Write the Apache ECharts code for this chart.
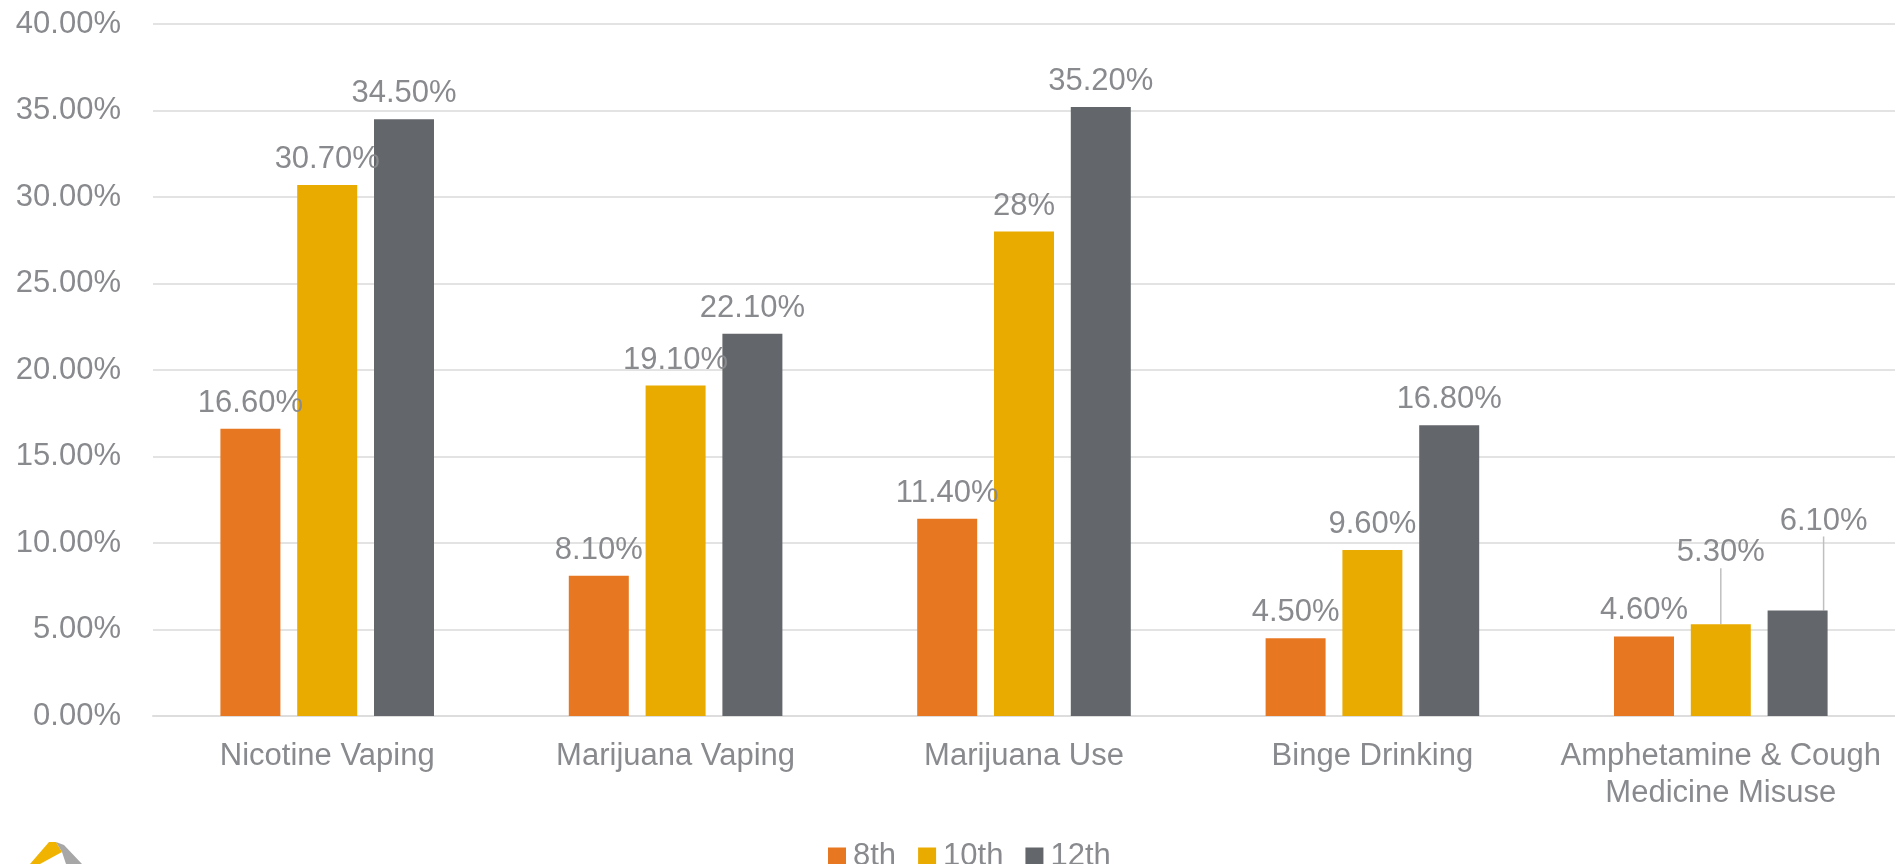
<!DOCTYPE html>
<html>
<head>
<meta charset="utf-8">
<script src="https://cdn.jsdelivr.net/npm/echarts@6/dist/echarts.min.js"></script>
<style>
html,body{margin:0;padding:0;background:#fff;}
#chart{width:1895px;height:864px;}
</style>
</head>
<body>
<div id="chart"></div>
<script>
const categories = ['Nicotine Vaping', 'Marijuana Vaping', 'Marijuana Use', 'Binge Drinking', 'Amphetamine & Cough\nMedicine Misuse'];
const seriesNames = ['8th', '10th', '12th'];
const values8th = [16.6, 8.1, 11.4, 4.5, 4.6];
const values10th = [30.7, 19.1, 28, 9.6, 5.3];
const values12th = [34.5, 22.1, 35.2, 16.8, 6.1];
const labels8th = ['16.60%', '8.10%', '11.40%', '4.50%', '4.60%'];
const labels10th = ['30.70%', '19.10%', '28%', '9.60%', '5.30%'];
const labels12th = ['34.50%', '22.10%', '35.20%', '16.80%', '6.10%'];
const colors = ['#E87722', '#EAAB00', '#63666A'];

const textColor = '#898A8E';
const fontFamily = '"Liberation Sans", Arial, sans-serif';

function makeSeries(name, vals, labs, color, moved) {
  return {
    name: name,
    type: 'bar',
    barWidth: 60,
    barGap: '28%',
    data: vals.map((v, i) => (moved && moved[i]) ? { value: v, labelLine: { show: true } } : { value: v }),
    itemStyle: { color: color },
    label: {
      show: true,
      position: 'top',
      distance: 10,
      color: textColor,
      fontSize: 31,
      fontFamily: fontFamily,
      formatter: p => labs[p.dataIndex]
    },
    labelLine: { show: false, lineStyle: { color: '#BFBFBF', width: 1.5 } },
    labelLayout: function (p) {
      if (moved && moved[p.dataIndex]) return moved[p.dataIndex];
      return {};
    }
  };
}

const chart = echarts.init(document.getElementById('chart'));
chart.setOption({
  animation: false,
  backgroundColor: '#fff',
  textStyle: { fontFamily: fontFamily },
  grid: { left: 153, right: 0, top: 24, bottom: 148, containLabel: false },
  legend: {
    data: seriesNames,
    left: 823,
    top: 836,
    itemWidth: 18,
    itemHeight: 18,
    itemGap: 22,
    icon: 'rect',
    textStyle: { color: textColor, fontSize: 31, fontFamily: fontFamily, padding: [0, 0, 0, 2] }
  },
  xAxis: {
    type: 'category',
    data: categories,
    axisLine: { lineStyle: { color: '#DDDDDD', width: 2 } },
    axisTick: { show: false },
    axisLabel: { color: textColor, fontSize: 31, fontFamily: fontFamily, margin: 22, lineHeight: 37, interval: 0 }
  },
  yAxis: {
    type: 'value',
    min: 0,
    max: 40,
    interval: 5,
    axisLine: { show: false },
    axisTick: { show: false },
    splitLine: { lineStyle: { color: '#E3E3E3', width: 2 } },
    axisLabel: { color: textColor, fontSize: 31, fontFamily: fontFamily, margin: 32, formatter: v => v.toFixed(2) + '%' }
  },
  graphic: [
    { type: 'polygon', shape: { points: [[49, 842], [56, 842], [62, 852], [40, 864], [30, 864]] }, style: { fill: '#F0B400' } },
    { type: 'polygon', shape: { points: [[56, 842], [64, 845], [82, 864], [66, 864], [62, 852]] }, style: { fill: '#A7A7A7' } }
  ],
  series: [
    makeSeries('8th', values8th, labels8th, colors[0]),
    makeSeries('10th', values10th, labels10th, colors[1], { 4: { dy: -46 } }),
    makeSeries('12th', values12th, labels12th, colors[2], { 4: { dx: 26, dy: -64 } })
  ]
});
</script>
</body>
</html>
